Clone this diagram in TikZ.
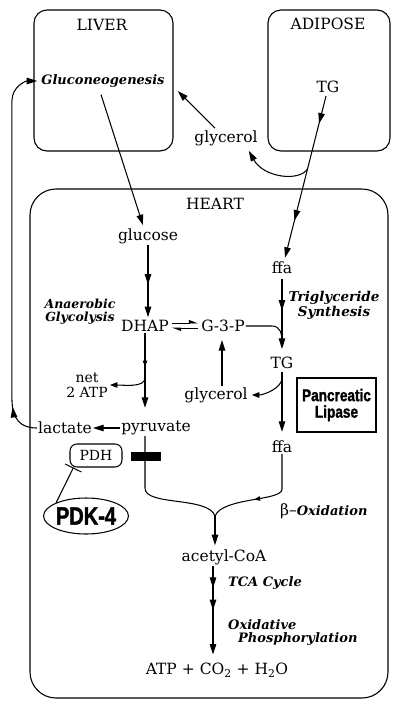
\documentclass[tikz,border=0pt]{standalone}
\usepackage{fontspec}
\setmainfont{DejaVu Serif}
\newfontfamily\heavy{Liberation Sans}[FakeStretch=0.8,BoldFeatures={FakeBold=1.5}]
\usetikzlibrary{arrows.meta,decorations.markings,calc,shapes.geometric}
\tikzset{
  txt/.style={inner sep=1pt,font=\fontsize{15.5}{17}\selectfont},
  lbl/.style={inner sep=1pt,font=\fontsize{13}{14}\selectfont\bfseries\itshape},
  ln/.style={line width=1.05pt},
  conn/.style={ln,-{Triangle[length=10.5pt,width=6.5pt]}},
  sconn/.style={ln,-{Triangle[length=7.5pt,width=5.5pt]}},
  organ/.style={line width=1.1pt},
  midarr/.style={postaction={decorate,decoration={markings,mark=at position #1 with {\arrow{Triangle[length=10.5pt,width=6.5pt]}}}}},
  smidarr/.style={postaction={decorate,decoration={markings,mark=at position #1 with {\arrow{Triangle[length=6pt,width=4.5pt]}}}}},
  harp/.style={line width=0.9pt,-{Triangle[harpoon,length=8pt,width=6pt]}},
}
\begin{document}
\begin{tikzpicture}[x=1pt,y=-1pt]
\useasboundingbox (0,0) rectangle (400,713);
\draw[organ,rounded corners=13pt] (34,10) rectangle (173,151);
\draw[organ,rounded corners=13pt] (268,10) rectangle (390,151);
\draw[organ,rounded corners=26pt] (30,189) rectangle (388,698);

\node[txt] (liverlbl) at (102,25) {LIVER};
\node[txt] (adlbl) at (328,24) {ADIPOSE};
\node[txt] (heartlbl) at (215,204) {HEART};
\node[lbl] (gng) at (103,81) {Gluconeogenesis};
\node[txt] (tga) at (328,87) {TG};
\node[txt] (glya) at (226,138) {glycerol};
\node[txt] (glucose) at (148,236) {glucose};
\node[txt] (ffa1) at (282,268) {ffa};
\node[lbl,align=center,font=\fontsize{12.5}{13}\selectfont\bfseries\itshape] (anaer) at (80,312) {Anaerobic\\Glycolysis};
\node[txt] (dhap) at (145,326) {DHAP};
\node[txt] (g3p) at (223,326) {G-3-P};
\node[lbl,align=center,font=\fontsize{13.5}{15}\selectfont\bfseries\itshape] (trig) at (334,305) {Triglyceride\\Synthesis};
\node[txt] (tgh) at (282,363) {TG};
\node[txt,align=center,font=\fontsize{14}{15}\selectfont] (net) at (87,385) {net\\2 ATP};
\node[txt] (glyh) at (216,395) {glycerol};
\node[draw,organ,align=center,minimum width=79pt,minimum height=54pt,inner sep=0pt,font=\heavy\bfseries\fontsize{17}{16.5}\selectfont] (lip) at (336.5,405) {Pancreatic\\Lipase};
\node[txt] (lactate) at (65,428) {lactate};
\node[txt] (pyr) at (156,428) {pyruvate};
\node[txt] (ffa2) at (282,447) {ffa};
\node[draw,ln,rounded corners=7pt,minimum width=52pt,minimum height=23pt,font=\fontsize{14}{15}\selectfont] (pdh) at (96,455.5) {PDH};
\node[fill=black,minimum width=30pt,minimum height=9pt,inner sep=0pt] (bar) at (146,456.5) {};
\node[draw,ln,ellipse,minimum width=82pt,minimum height=36pt,inner sep=0pt,font=\heavy\bfseries\fontsize{25}{25}\selectfont] (pdk) at (86,516) {PDK-4};
\node[txt,anchor=west] (beta) at (279,511) {β–\fontsize{13}{14}\selectfont\bfseries\itshape Oxidation};
\node[txt] (acetyl) at (224,557) {acetyl-CoA};
\node[lbl,anchor=west] (tca) at (227,583) {TCA Cycle};
\node[lbl,anchor=west] (oxi) at (227,625) {Oxidative};
\node[lbl,anchor=west] (phos) at (237,639) {Phosphorylation};
\node[txt] (atp) at (217,670) {ATP + CO\textsubscript{2} + H\textsubscript{2}O};

% liver -> glucose
\draw[conn] ($(gng.south)+(-2,6)$) -- ($(glucose.north)+(-5,-2)$);
% adipose TG -> ffa
\coordinate (a1) at ($(tga.south)+(-2,2)$);
\coordinate (b1) at ($(ffa1.north)+(3,-3)$);
\draw[conn,midarr=0.17,midarr=0.77] (a1) -- (b1);
\coordinate (j1) at ($(a1)!0.45!(b1)$);
\draw[conn] (j1) .. controls +(-8,13) and +(15,27) .. ($(glya.south east)+(-10,4)$);
\draw[conn] ($(glya.north)+(-11,-1)$) -- ($(gng.east)+(12,10)$);
% glucose -> DHAP
\draw[conn,midarr=0.55] (glucose.south) -- ($(glucose.south |- dhap.north)+(0,-2)$);
% DHAP <=> G3P
\draw[harp] ($(dhap.east)+(2,-3)$) -- ($(g3p.west)+(-2,-3)$);
\draw[harp] ($(g3p.west)+(-2,2)$) -- ($(dhap.east)+(2,2)$);
% ffa -> TG
\coordinate (f1) at ($(ffa1.south)+(0,4)$);
\coordinate (t1) at ($(tgh.north)+(0,-7)$);
\draw[conn,midarr=0.45] (f1) -- (t1);
\draw[ln] (g3p.east) -- ++(26,0) .. controls +(8,0) and +(0,-9) .. ($(f1)!0.9!(t1)$);
% glycerol -> G3P
\draw[conn] ($(glyh.north)+(6,0)$) -- ($(g3p.south)+(-1,7)$);
% TG -> ffa, TG -> glycerol
\draw[conn] ($(tgh.south)+(0,2)$) -- ($(ffa2.north)+(0,-8)$);
\draw[sconn] ($(tgh.south)+(0,8)$) .. controls +(0,10) and +(12,0) .. ($(glyh.east)+(3,0)$);
% DHAP -> pyruvate, net 2 ATP
\coordinate (d1) at ($(dhap.south |- pyr.north)+(0,-12)$);
\draw[conn,smidarr=0.45] (dhap.south) -- (d1);
\draw[sconn] ($(dhap.south)!0.6!(d1)$) .. controls +(0,10) and +(14,0) .. ($(net.east)+(1,0)$);
% pyruvate -> lactate
\draw[conn] (pyr.west) -- (lactate.east);
% lactate -> gluconeogenesis
\coordinate (v1) at ($(lactate.west)+(-25,-30)$);
\coordinate (v2) at ($(v1 |- gng.west)+(0,20)$);
\draw[conn,midarr=36pt] (lactate.west) .. controls +(-16,0) and +(0,22) .. (v1) -- (v2) .. controls +(0,-14) and +(-12,0) .. ($(gng.west)+(-3,0)$);
% convergence to acetyl-CoA
\coordinate (m) at ($(acetyl.north)+(-9,-32)$);
\draw[ln] (pyr.south -| dhap.south) -- ++(0,52) .. controls +(0,18) and +(-6,-20) .. (m);
\draw[ln,smidarr=0.6] (ffa2.south) -- ++(0,35) .. controls +(0,12) and +(7,-19) .. (m);
\draw[conn] (m) -- ($(acetyl.north)+(-9,-3)$);
% acetyl-CoA -> ATP
\draw[conn,midarr=0.25,midarr=0.5] ($(acetyl.south)+(-11,0)$) -- ($(atp.north)+(-4,-7)$);
% PDK-4 -| PDH
\draw[ln,-{Bar[width=18pt,line width=1pt]}] (pdk.156) -- ($(pdh.south west)+(4,0)$);
\end{tikzpicture}
\end{document}
